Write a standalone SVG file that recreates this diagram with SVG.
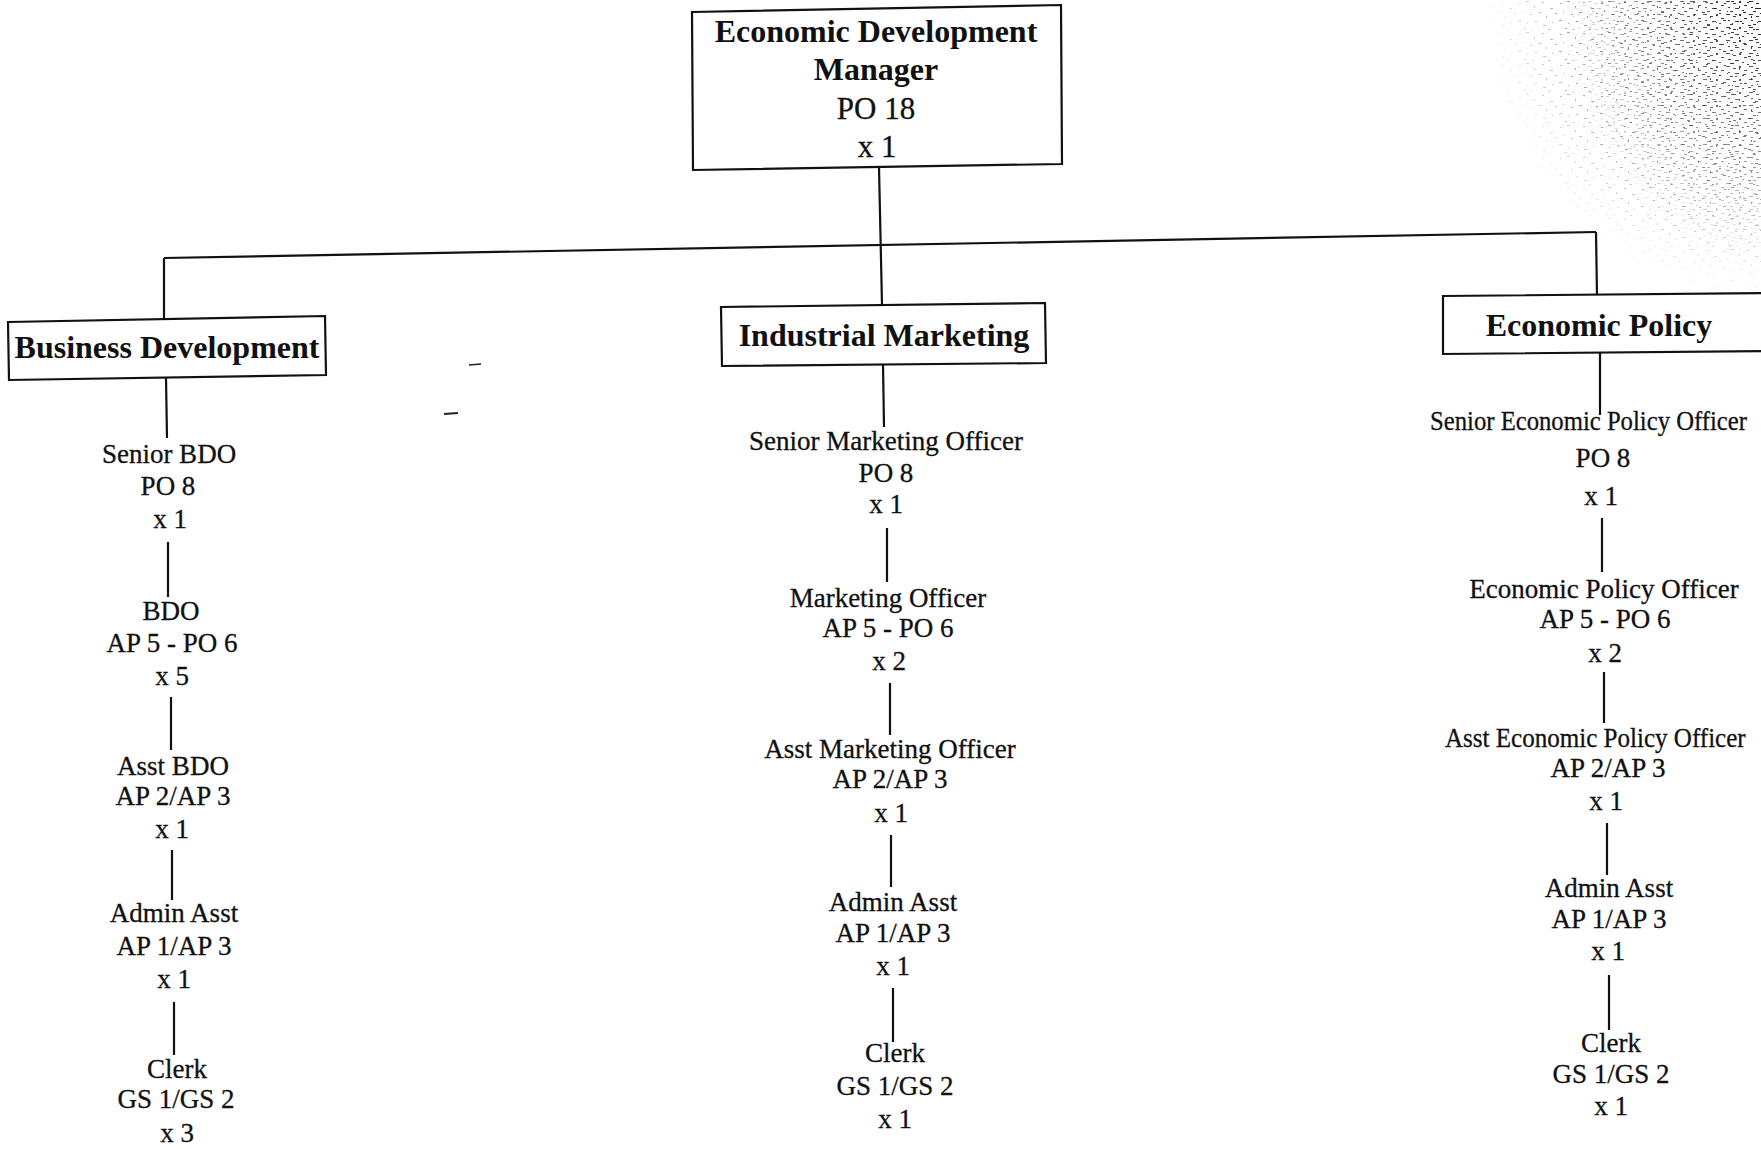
<svg xmlns="http://www.w3.org/2000/svg" width="1761" height="1149" viewBox="0 0 1761 1149">
  <style>
    .box { fill: #ffffff; stroke: #111111; stroke-width: 2.2; }
    .head { font-family: "Liberation Serif", "Times New Roman", serif; font-weight: bold; font-size: 32px; fill: #111111; text-anchor: middle; }
    .role { font-family: "Liberation Serif", "Times New Roman", serif; font-size: 27px; fill: #111111; stroke: #111111; stroke-width: 0.3; text-anchor: middle; }
    .conn line { stroke: #111111; stroke-width: 2.2; fill: none; }
    .speck { fill: #222222; }
  </style>
  <defs>
    <pattern id="noise" width="41" height="31" patternUnits="userSpaceOnUse">
      <rect class="speck" x="2" y="3" width="2" height="1"/>
      <rect class="speck" x="9" y="1" width="3" height="1"/>
      <rect class="speck" x="17" y="6" width="1" height="2"/>
      <rect class="speck" x="25" y="2" width="2" height="1"/>
      <rect class="speck" x="33" y="8" width="3" height="1"/>
      <rect class="speck" x="5" y="11" width="1" height="1"/>
      <rect class="speck" x="13" y="14" width="2" height="1"/>
      <rect class="speck" x="21" y="12" width="3" height="1"/>
      <rect class="speck" x="29" y="16" width="1" height="2"/>
      <rect class="speck" x="38" y="13" width="2" height="1"/>
      <rect class="speck" x="1" y="20" width="3" height="1"/>
      <rect class="speck" x="10" y="23" width="1" height="1"/>
      <rect class="speck" x="18" y="21" width="2" height="1"/>
      <rect class="speck" x="26" y="25" width="3" height="1"/>
      <rect class="speck" x="35" y="22" width="1" height="1"/>
      <rect class="speck" x="7" y="28" width="2" height="1"/>
      <rect class="speck" x="15" y="29" width="1" height="1"/>
      <rect class="speck" x="31" y="29" width="2" height="1"/>
    </pattern>
    <pattern id="noiseDense" width="23" height="13" patternUnits="userSpaceOnUse">
      <rect class="speck" x="1" y="1" width="4" height="1"/>
      <rect class="speck" x="8" y="3" width="3" height="1"/>
      <rect class="speck" x="14" y="1" width="2" height="2"/>
      <rect class="speck" x="19" y="5" width="3" height="1"/>
      <rect class="speck" x="3" y="7" width="2" height="1"/>
      <rect class="speck" x="10" y="8" width="4" height="1"/>
      <rect class="speck" x="17" y="10" width="2" height="1"/>
      <rect class="speck" x="5" y="11" width="3" height="1"/>
    </pattern>
    <radialGradient id="cornerFade" cx="1" cy="0" r="1">
      <stop offset="0" stop-color="#fff" stop-opacity="1"/>
      <stop offset="0.6" stop-color="#fff" stop-opacity="0.5"/>
      <stop offset="1" stop-color="#fff" stop-opacity="0"/>
    </radialGradient>
    <mask id="cornerMask">
      <rect x="1560" y="0" width="201" height="260" fill="url(#cornerFade)"/>
    </mask>
    <mask id="cornerMask2">
      <rect x="1480" y="0" width="281" height="300" fill="url(#cornerFade)"/>
    </mask>
  </defs>

  <rect x="0" y="0" width="1761" height="1149" fill="#ffffff"/>

  <!-- scan noise -->
  <g id="scan-noise">
    <rect x="1480" y="0" width="281" height="300" fill="url(#noise)" mask="url(#cornerMask2)"/>
    <rect x="1560" y="0" width="201" height="260" fill="url(#noiseDense)" mask="url(#cornerMask)"/>
    <line x1="469" y1="365" x2="481" y2="364" stroke="#222" stroke-width="1.5"/>
    <line x1="444" y1="414" x2="458" y2="413" stroke="#222" stroke-width="2"/>
  </g>

  <!-- connectors -->
  <g id="connectors" class="conn">
    <line x1="879" y1="167" x2="882" y2="305"/>
    <line x1="164" y1="258" x2="1596" y2="232"/>
    <line x1="164" y1="258" x2="164" y2="320"/>
    <line x1="1596" y1="232" x2="1597" y2="295"/>
    <line x1="166" y1="378" x2="167" y2="438"/>
    <line x1="883" y1="364" x2="884" y2="427"/>
    <line x1="1600" y1="353" x2="1600" y2="415"/>

    <line x1="168" y1="542" x2="168" y2="597"/>
    <line x1="171" y1="697" x2="171" y2="750"/>
    <line x1="172" y1="850" x2="172" y2="900"/>
    <line x1="174" y1="1002" x2="174" y2="1055"/>

    <line x1="887" y1="528" x2="887" y2="582"/>
    <line x1="890" y1="683" x2="890" y2="735"/>
    <line x1="891" y1="835" x2="891" y2="887"/>
    <line x1="893" y1="988" x2="893" y2="1042"/>

    <line x1="1602" y1="518" x2="1602" y2="572"/>
    <line x1="1604" y1="672" x2="1604" y2="723"/>
    <line x1="1607" y1="823" x2="1607" y2="875"/>
    <line x1="1609" y1="975" x2="1609" y2="1030"/>
  </g>

  <!-- top node -->
  <g id="node-manager">
    <polygon class="box" points="692,12 1061,5 1062,164 693,170"/>
    <text class="head" x="876" y="42">Economic Development</text>
    <text class="head" x="876" y="80">Manager</text>
    <text class="role" style="font-size:31px" x="876" y="119">PO 18</text>
    <text class="role" style="font-size:31px" x="877" y="157">x 1</text>
  </g>

  <!-- section headers -->
  <g id="node-business-development">
    <polygon class="box" points="8,322 325,316 326,375 9,380"/>
    <text class="head" x="167" y="358">Business Development</text>
  </g>
  <g id="node-industrial-marketing">
    <polygon class="box" points="721,307 1045,303 1046,363 722,366"/>
    <text class="head" x="884" y="346">Industrial Marketing</text>
  </g>
  <g id="node-economic-policy">
    <polygon class="box" points="1443,296 1775,293 1775,351 1443,354"/>
    <text class="head" x="1599" y="336">Economic Policy</text>
  </g>

  <!-- Business Development column -->
  <g id="node-senior-bdo">
    <text class="role" x="169" y="463">Senior BDO</text>
    <text class="role" x="168" y="495">PO 8</text>
    <text class="role" x="170" y="528">x 1</text>
  </g>
  <g id="node-bdo">
    <text class="role" x="171" y="620">BDO</text>
    <text class="role" x="172" y="652">AP 5 - PO 6</text>
    <text class="role" x="172" y="685">x 5</text>
  </g>
  <g id="node-asst-bdo">
    <text class="role" x="173" y="775">Asst BDO</text>
    <text class="role" x="173" y="805">AP 2/AP 3</text>
    <text class="role" x="172" y="838">x 1</text>
  </g>
  <g id="node-bd-admin-asst">
    <text class="role" x="174" y="922">Admin Asst</text>
    <text class="role" x="174" y="955">AP 1/AP 3</text>
    <text class="role" x="174" y="988">x 1</text>
  </g>
  <g id="node-bd-clerk">
    <text class="role" x="177" y="1078">Clerk</text>
    <text class="role" x="176" y="1108">GS 1/GS 2</text>
    <text class="role" x="177" y="1142">x 3</text>
  </g>

  <!-- Industrial Marketing column -->
  <g id="node-senior-marketing-officer">
    <text class="role" x="886" y="450">Senior Marketing Officer</text>
    <text class="role" x="886" y="482">PO 8</text>
    <text class="role" x="886" y="513">x 1</text>
  </g>
  <g id="node-marketing-officer">
    <text class="role" x="888" y="607">Marketing Officer</text>
    <text class="role" x="888" y="637">AP 5 - PO 6</text>
    <text class="role" x="889" y="670">x 2</text>
  </g>
  <g id="node-asst-marketing-officer">
    <text class="role" x="890" y="758">Asst Marketing Officer</text>
    <text class="role" x="890" y="788">AP 2/AP 3</text>
    <text class="role" x="891" y="822">x 1</text>
  </g>
  <g id="node-im-admin-asst">
    <text class="role" x="893" y="911">Admin Asst</text>
    <text class="role" x="893" y="942">AP 1/AP 3</text>
    <text class="role" x="893" y="975">x 1</text>
  </g>
  <g id="node-im-clerk">
    <text class="role" x="895" y="1062">Clerk</text>
    <text class="role" x="895" y="1095">GS 1/GS 2</text>
    <text class="role" x="895" y="1128">x 1</text>
  </g>

  <!-- Economic Policy column -->
  <g id="node-senior-economic-policy-officer">
    <text class="role" transform="translate(1430,430) scale(0.915,1)" x="0" y="0" style="text-anchor:start">Senior Economic Policy Officer</text>
    <text class="role" x="1603" y="467">PO 8</text>
    <text class="role" x="1601" y="505">x 1</text>
  </g>
  <g id="node-economic-policy-officer">
    <text class="role" x="1604" y="598">Economic Policy Officer</text>
    <text class="role" x="1605" y="628">AP 5 - PO 6</text>
    <text class="role" x="1605" y="662">x 2</text>
  </g>
  <g id="node-asst-economic-policy-officer">
    <text class="role" transform="translate(1445,747) scale(0.928,1)" x="0" y="0" style="text-anchor:start">Asst Economic Policy Officer</text>
    <text class="role" x="1608" y="777">AP 2/AP 3</text>
    <text class="role" x="1606" y="810">x 1</text>
  </g>
  <g id="node-ep-admin-asst">
    <text class="role" x="1609" y="897">Admin Asst</text>
    <text class="role" x="1609" y="928">AP 1/AP 3</text>
    <text class="role" x="1608" y="960">x 1</text>
  </g>
  <g id="node-ep-clerk">
    <text class="role" x="1611" y="1052">Clerk</text>
    <text class="role" x="1611" y="1083">GS 1/GS 2</text>
    <text class="role" x="1611" y="1115">x 1</text>
  </g>
</svg>
